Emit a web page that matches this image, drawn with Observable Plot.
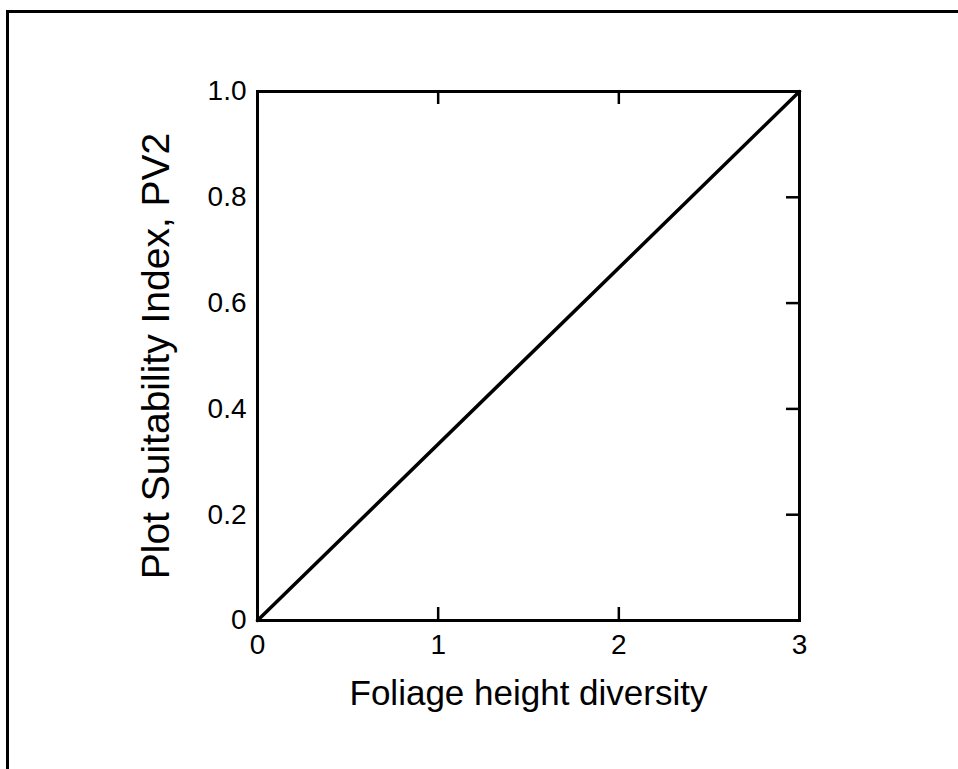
<!DOCTYPE html>
<html><head><meta charset="utf-8">
<script src="https://cdn.jsdelivr.net/npm/d3@7"></script>
<script src="https://cdn.jsdelivr.net/npm/@observablehq/plot@0.6"></script>
<style>
html,body{margin:0;padding:0;background:#fff;}
#wrap{position:relative;width:958px;height:769px;overflow:hidden;}
#border{position:absolute;left:6px;top:10px;width:1000px;height:1000px;border-top:3px solid #000;border-left:3px solid #000;pointer-events:none;}
#wrap svg{position:absolute;left:0;top:0;}
</style></head><body><div id="wrap"><div id="border"></div></div>
<script>
const xTicks = [0, 1, 2, 3];
const xTickLabels = ["0", "1", "2", "3"];
const yTicks = [0, 0.2, 0.4, 0.6, 0.8, 1.0];
const yTickLabels = ["0", "0.2", "0.4", "0.6", "0.8", "1.0"];
const xInnerTicks = [1, 2];
const yInnerTicks = [0.2, 0.4, 0.6, 0.8];
const foliageDiversity = [0, 3];
const suitability = [0, 1];
const xTitle = "Foliage height diversity";
const yTitle = "Plot Suitability Index, PV2";

const W = 958, H = 769, mL = 257, mR = 159, mT = 91, mB = 149;
const fw = W - mL - mR, fh = H - mT - mB, tick = 13;
const data = foliageDiversity.map((x, i) => ({x, y: suitability[i]}));

const chart = Plot.plot({
  width: W, height: H,
  marginLeft: mL, marginRight: mR, marginTop: mT, marginBottom: mB,
  style: {fontFamily: "'Liberation Sans', Arial, Helvetica, sans-serif", background: "transparent", color: "#000"},
  x: {domain: [0, 3], axis: null},
  y: {domain: [0, 1], axis: null},
  marks: [
    Plot.frame({stroke: "#000", strokeWidth: 3}),
    Plot.tickX(xInnerTicks, {x: d => d, stroke: "#000", strokeWidth: 2.5, insetTop: fh - tick}),
    Plot.tickX(xInnerTicks, {x: d => d, stroke: "#000", strokeWidth: 2.5, insetBottom: fh - tick}),
    Plot.tickY(yInnerTicks, {y: d => d, stroke: "#000", strokeWidth: 2.5, insetLeft: fw - tick}),
    Plot.text(xTicks, {x: d => d, frameAnchor: "bottom", dy: 14, lineAnchor: "top",
      text: (d, i) => xTickLabels[i], fontSize: 28, fill: "#000"}),
    Plot.text(yTicks, {y: d => d, frameAnchor: "left", dx: -11, textAnchor: "end",
      text: (d, i) => yTickLabels[i], fontSize: 28, fill: "#000"}),
    Plot.line(data, {x: "x", y: "y", stroke: "#000", strokeWidth: 3.5}),
    Plot.text([xTitle], {frameAnchor: "bottom", dy: 84, lineAnchor: "bottom", fontSize: 35, text: d => d}),
    Plot.text([yTitle], {frameAnchor: "left", dx: -116, rotate: -90, lineAnchor: "top", textAnchor: "middle", fontSize: 39, text: d => d})
  ]
});
document.getElementById("wrap").prepend(chart);
</script>
</body></html>
